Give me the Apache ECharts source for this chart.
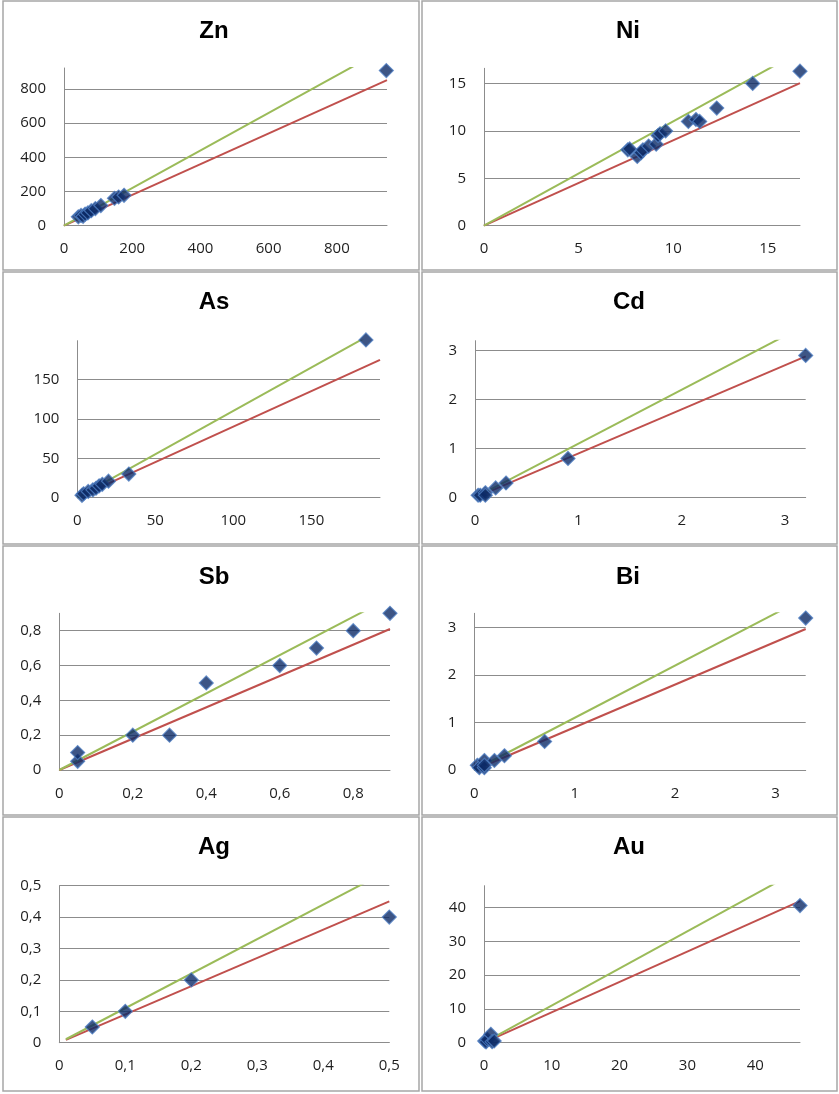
<!DOCTYPE html>
<html><head><meta charset="utf-8">
<script src="https://cdn.jsdelivr.net/npm/echarts@6/dist/echarts.min.js"></script>
<style>html,body{margin:0;padding:0;background:#fff}#c{width:839px;height:1094px}</style>
</head><body><div id="c"></div>
<script>
// ---------- data ----------
const elements = ['Zn', 'Ni', 'As', 'Cd', 'Sb', 'Bi', 'Ag', 'Au'];
const znPoints = [[42,52],[50,60],[56,55],[62,68],[70,75],[80,88],[92,100],[108,118],[148,160],[160,168],[176,178],[945,908]];
const niPoints = [[7.6,8.0],[7.7,8.1],[8.1,7.3],[8.3,7.7],[8.4,8.0],[8.7,8.4],[9.1,8.6],[9.2,9.5],[9.3,9.7],[9.6,10.0],[10.8,11.0],[11.2,11.2],[11.4,11.0],[12.3,12.4],[14.2,15.0],[16.7,16.3]];
const asPoints = [[3,3],[4,5],[7,8],[10,10],[12,12],[14,15],[16,17],[20,21],[33,30],[185,200]];
const cdPoints = [[0.03,0.05],[0.05,0.05],[0.1,0.1],[0.1,0.05],[0.2,0.2],[0.3,0.3],[0.9,0.8],[3.2,2.9]];
const sbPoints = [[0.05,0.05],[0.05,0.1],[0.2,0.2],[0.3,0.2],[0.4,0.5],[0.6,0.6],[0.7,0.7],[0.8,0.8],[0.9,0.9]];
const biPoints = [[0.03,0.1],[0.05,0.05],[0.1,0.2],[0.1,0.05],[0.1,0.1],[0.2,0.2],[0.3,0.3],[0.7,0.6],[3.3,3.2]];
const agPoints = [[0.05,0.05],[0.1,0.1],[0.2,0.2],[0.5,0.4]];
const auPoints = [[0.1,0.5],[0.3,0.2],[0.5,1.0],[1.0,2.5],[1.2,0.3],[1.5,0.5],[46.6,40.6]];
const pointSets = [znPoints, niPoints, asPoints, cdPoints, sbPoints, biPoints, agPoints, auPoints];
const xMaxes = [947, 16.7, 194, 3.2, 0.9, 3.3, 0.5, 46.6];
const yMaxes = [923, 16.6, 199, 3.2, 0.9, 3.3, 0.5, 46.5];
const tickSteps = [200, 5, 50, 1, 0.2, 1, 0.1, 10];
const lineStarts = [0, 0, 0, 0, 0, 0, 0.01, 0];
const upperRatio = 1.1;   // +10 % line
const lowerRatio = 0.9;   // -10 % line

// ---------- layout ----------
const plotBoxes = [
  [64, 68, 387, 225.7],
  [484, 68.3, 800, 225.7],
  [77.3, 340.7, 380, 497.7],
  [475, 340.7, 805.7, 497.7],
  [59.3, 613.3, 390, 770],
  [474.3, 613.3, 805.7, 770],
  [59.3, 885.7, 389.3, 1042.7],
  [484, 885.7, 800, 1042.7]
];
const titleCenters = [[214,32],[628,32],[214,303],[629,303],[214,578],[628,578],[214,848],[629,848]];
const panelRects = [
  [3, 1, 416, 269], [422, 1, 415, 269],
  [3, 272, 416, 272], [422, 272, 415, 272],
  [3, 546, 416, 269], [422, 546, 415, 269],
  [3, 817, 416, 274], [422, 817, 415, 274]
];

const gridColor = '#8c8c8c';
const labelColor = '#1e1e1e';
const fontFam = 'Open Sans, Liberation Sans, sans-serif';

function isMultiple(v, step) {
  const r = v / step;
  return Math.abs(r - Math.round(r)) < 1e-6;
}
function makeFmt(step) {
  return function (v) {
    if (!isMultiple(v, step)) return '';
    return String(Number(v.toFixed(6))).replace('.', ',');
  };
}

const option = {
  animation: false,
  backgroundColor: '#ffffff',
  title: [], grid: [], xAxis: [], yAxis: [], series: [],
  graphic: []
};

panelRects.forEach(r => {
  option.graphic.push({
    type: 'rect', shape: { x: r[0], y: r[1], width: r[2], height: r[3] },
    style: { fill: 'none', stroke: '#a6a6a6', lineWidth: 1.5 }, silent: true, z: 0
  });
});

elements.forEach((name, i) => {
  const b = plotBoxes[i];
  const step = tickSteps[i];
  option.title.push({
    text: name, left: titleCenters[i][0], top: titleCenters[i][1] - 13,
    textAlign: 'center', padding: 0,
    textStyle: { fontSize: 24, fontWeight: 'bold', color: '#000', fontFamily: 'Liberation Sans, Arial, sans-serif' }
  });
  option.grid.push({ left: b[0], top: b[1], width: b[2] - b[0], height: b[3] - b[1], containLabel: false });
  option.xAxis.push({
    gridIndex: i, type: 'value', min: 0, max: xMaxes[i], interval: step,
    axisLine: { show: true, onZero: false, lineStyle: { color: gridColor, width: 1 } },
    axisTick: { show: false },
    splitLine: { show: false },
    axisLabel: { margin: 16, fontSize: 15, color: labelColor, fontFamily: fontFam,
      formatter: makeFmt(step), showMaxLabel: isMultiple(xMaxes[i], step), showMinLabel: true }
  });
  option.yAxis.push({
    gridIndex: i, type: 'value', min: 0, max: yMaxes[i], interval: step,
    axisLine: { show: true, onZero: false, lineStyle: { color: gridColor, width: 1 } },
    axisTick: { show: false },
    splitLine: { show: true, showMaxLine: isMultiple(yMaxes[i], step), lineStyle: { color: gridColor, width: 1 } },
    axisLabel: { margin: 18, fontSize: 15, color: labelColor, fontFamily: fontFam,
      formatter: makeFmt(step), showMaxLabel: isMultiple(yMaxes[i], step) }
  });
  const x0 = lineStarts[i], x1 = xMaxes[i];
  option.series.push({
    type: 'line', xAxisIndex: i, yAxisIndex: i, showSymbol: false, clip: true, z: 2,
    lineStyle: { color: '#c0504d', width: 2 },
    data: [[x0, x0 * lowerRatio], [x1, x1 * lowerRatio]]
  });
  option.series.push({
    type: 'line', xAxisIndex: i, yAxisIndex: i, showSymbol: false, clip: true, z: 2,
    lineStyle: { color: '#9bbb59', width: 2 },
    data: [[x0, x0 * upperRatio], [x1, x1 * upperRatio]]
  });
  option.series.push({
    type: 'scatter', xAxisIndex: i, yAxisIndex: i, symbol: 'diamond', symbolSize: 14, z: 3, clip: false,
    itemStyle: { color: '#0c2a66', borderColor: '#4d7dc2', borderWidth: 1.2 },
    data: pointSets[i]
  });
});

const chart = echarts.init(document.getElementById('c'), null, { renderer: 'canvas' });
chart.setOption(option);
</script>
</body></html>
